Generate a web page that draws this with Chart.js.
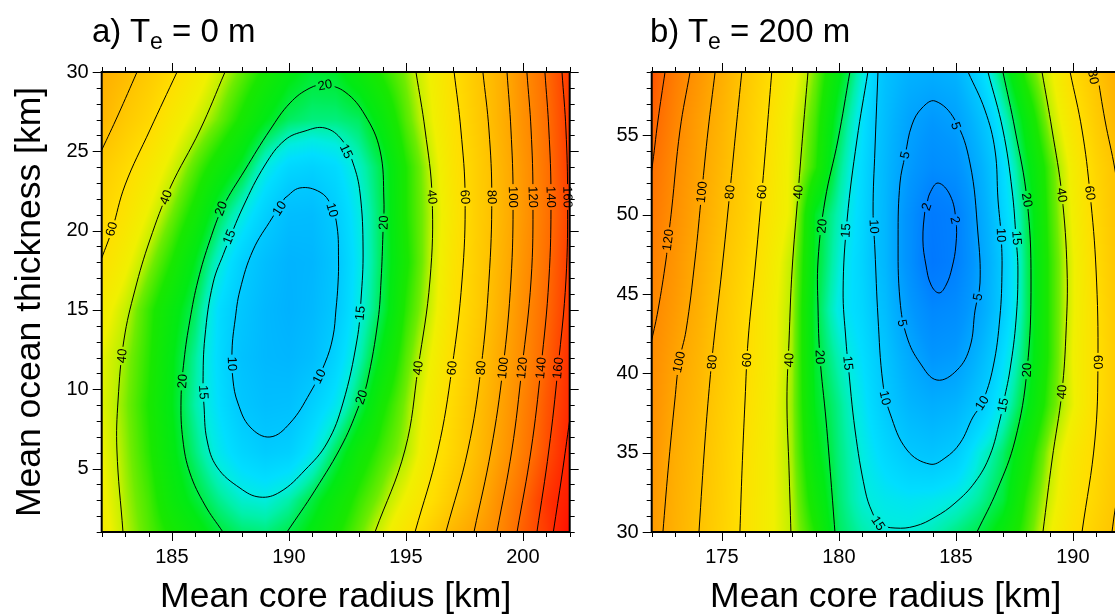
<!DOCTYPE html>
<html>
<head>
<meta charset="utf-8">
<script src="https://cdn.jsdelivr.net/npm/chart.js@4.4.1/dist/chart.umd.min.js"></script>
<style>
  html, body { margin: 0; padding: 0; overflow: hidden; background: #fff; width: 1115px; height: 615px; }
  canvas { position: absolute; top: 0; }
  #ca { left: 0; }
  #cb { left: 600px; }
  .ttl { position: absolute; top: 14px; font-family: "Liberation Sans", Arial, sans-serif; font-size: 33px; line-height: 1; color: #000; white-space: nowrap; z-index: 2; }
  .ttl sub { font-size: 23px; vertical-align: -7px; line-height: 0; }
</style>
</head>
<body>
<div class="ttl" style="left:92px">a) T<sub>e</sub> = 0 m</div>
<div class="ttl" style="left:650px">b) T<sub>e</sub> = 200 m</div>
<canvas id="ca" width="600" height="615"></canvas>
<canvas id="cb" width="530" height="615"></canvas>
<script>
// ---- panel a: T_e = 0 m ----
const xTicksA = [185, 190, 195, 200];
const yTicksA = [5, 10, 15, 20, 25, 30];
const gridXA = [182, 183, 184, 185, 186, 187, 188, 189, 190, 191, 192, 193, 194, 195, 196, 197, 198, 199, 200, 201, 202];
const gridYA = [30, 27, 24, 21, 18, 15, 12, 9, 6, 3, 1];
const misfitA = [
  [95, 86, 74, 63, 52, 42, 35, 29, 24, 21.5, 22, 26, 31, 37, 46, 59, 75, 92, 118, 141, 170],
  [90, 75, 65, 52, 43, 36, 29, 23, 19.5, 18.5, 18.5, 19.5, 25, 34, 44, 57, 73, 92, 116, 139, 168],
  [73, 63, 53, 43, 34, 27, 21.5, 15, 12, 11.3, 12.5, 16, 20.5, 30, 40, 55, 70, 89, 112, 137, 168],
  [66, 56, 45, 36, 28, 20, 15, 11, 8.5, 8.3, 10.5, 14.7, 20, 30, 39, 53, 70, 88, 111, 136, 163],
  [59, 48, 38, 30, 22.5, 15.5, 11, 8.5, 7.2, 7.5, 9.6, 14.2, 20, 29, 39.5, 55, 71, 90, 114, 139, 168],
  [50, 41, 32, 25, 19.5, 12.8, 9.7, 7.8, 7, 7.8, 10, 14.8, 20.5, 31, 41, 57, 72, 93, 118, 142, 170],
  [45, 38, 31, 23.5, 17.5, 12.5, 9, 7.8, 7.5, 8.5, 11.5, 16.5, 24, 34, 45, 60, 76, 98, 120, 146, 176],
  [44, 37, 30, 23, 17, 13, 9.8, 8.6, 8.8, 11, 14, 20, 29, 37, 49, 63, 81, 102, 126, 152, 178],
  [46, 38, 31, 24, 18.5, 14.3, 11.8, 10.5, 11, 14, 19.8, 27, 33, 39, 52, 66, 84, 106, 130, 156, 186],
  [48, 39, 33, 26, 21.5, 18, 15.7, 15.2, 17, 20.8, 26, 32, 38, 47, 58, 75, 93, 118, 142, 172, 192],
  [50, 40, 34, 29, 25, 21, 19, 18.5, 20.2, 24, 29, 35, 43, 55, 70, 89, 105, 122, 148, 168, 205]
];
const contoursA = [
  [10, [[189.83,22.06],[190.47,22.69],[191.33,22.43],[191.80,21.61],[192.06,20.23],[192.12,18.15],[192.10,16.70],[192.01,15.00],[191.88,13.29],[191.54,11.65],[190.90,9.76],[190.05,7.87],[189.19,6.99],[188.34,7.62],[187.82,9.13],[187.61,10.58],[187.57,12.47],[187.70,14.36],[187.91,16.25],[188.47,18.78],[189.28,20.79],[189.83,22.06]]],
  [15, [[187.27,18.78],[188.04,21.49],[188.98,24.14],[189.83,25.71],[190.69,26.28],[191.54,26.47],[192.27,25.71],[192.74,24.26],[193.04,22.37],[193.17,18.78],[193.08,15.62],[192.91,13.10],[192.31,9.13],[191.63,6.61],[190.69,4.91],[189.62,3.52],[188.76,3.20],[187.91,3.77],[186.93,5.09],[186.50,6.80],[186.37,9.00],[186.33,10.39],[186.41,13.29],[186.76,16.70],[187.27,18.78]]],
  [20, [[187.18,1],[186.41,2.70],[185.77,4.72],[185.47,6.80],[185.39,9.32],[185.52,11.84],[185.77,14.36],[186.12,16.89],[186.63,19.41],[187.18,21.49],[188.12,23.82],[189.19,26.34],[190.05,28.05],[190.90,28.99],[191.54,29.18],[192.40,28.74],[193.25,27.29],[193.89,25.08],[194.06,21.93],[194.02,19.85],[193.94,16.89],[193.81,14.36],[193.34,10.39],[193.04,9.13],[192.31,6.61],[191.12,3.64],[189.92,1]]],
  [40, [[187.27,30],[186.20,26.34],[184.92,22.69],[184.06,19.41],[183.42,16.25],[182.95,13.10],[182.70,9.32],[182.65,6.17],[182.91,1]]],
  [60, [[185.22,30],[184.06,26.34],[183.00,22.88],[182.44,20.04],[182.0,18.27],[181.9,17.9]]],
  [80, [[183.51,30],[182.70,27.29],[182.0,25.08],[181.9,24.8]]],
  [40, [[195.43,30],[195.82,26.34],[196.12,22.12],[196.03,16.89],[195.52,11.34],[194.96,6.17],[193.68,1]]],
  [60, [[197.06,30],[197.35,26.34],[197.53,22.12],[197.40,16.89],[196.97,11.34],[196.37,6.17],[195.39,1]]],
  [80, [[198.29,30],[198.55,26.34],[198.67,22.12],[198.55,16.89],[198.21,11.34],[197.65,6.17],[196.71,1]]],
  [100, [[199.32,30],[199.49,26.34],[199.58,22.12],[199.49,16.89],[199.15,11.34],[198.64,6.17],[197.91,1]]],
  [120, [[200.17,30],[200.35,26.34],[200.43,22.12],[200.35,16.89],[199.96,11.34],[199.53,6.17],[198.89,1]]],
  [140, [[200.94,30],[201.11,26.34],[201.20,22.12],[201.11,16.89],[200.77,11.34],[200.35,6.17],[199.75,1]]],
  [160, [[201.67,30],[201.84,26.34],[201.91,22.12],[201.84,16.89],[201.50,11.34],[201.11,6.17],[200.60,1]]],
  [180, [[202.05,8.5],[202.0,8.06],[201.67,4.6],[201.30,1]]]
];
const labelsA = [
  [60,182.42,20.1],[40,184.75,22.1],[40,182.87,12.1],[20,187.1,21.4],[20,191.54,29.18],[20,194.05,20.5],
  [20,193.1,9.5],[20,185.45,10.5],[15,187.45,19.6],[15,192.45,25.0],[15,193.05,14.8],[15,186.35,9.8],
  [10,189.6,21.4],[10,191.85,21.3],[10,187.57,11.6],[10,191.3,10.8],
  [40,196.12,22.12],[60,197.53,22.12],[80,198.67,22.12],[100,199.58,22.12],[120,200.43,22.12],[140,201.2,22.12],[160,201.91,22.12],
  [40,195.52,11.34],[60,196.97,11.34],[80,198.21,11.34],[100,199.15,11.34],[120,199.96,11.34],[140,200.77,11.34],[160,201.5,11.34]
];

// ---- panel b: T_e = 200 m ----
const xTicksB = [175, 180, 185, 190];
const yTicksB = [30, 35, 40, 45, 50, 55];
const gridXB = [172, 173, 174, 175, 176, 177, 178, 179, 180, 181, 182, 183, 184, 185, 186, 187, 188, 189, 190, 191, 192];
const gridYB = [59, 56, 53, 50, 47, 44, 41, 38, 35, 32, 30];
const misfitB = [
  [155, 130, 113, 95, 77, 62, 49, 36, 24, 15.5, 9, 7, 6.5, 7.2, 12, 20, 32, 44, 62, 79, 98],
  [147, 125, 107, 91, 74, 59, 45, 33, 20.5, 13.5, 8.3, 5.3, 4.2, 5, 8.5, 15.3, 25, 39, 55, 73, 92],
  [139, 120, 104, 87, 72, 57, 44, 31, 18.3, 12.5, 7.7, 4.5, 3, 3.5, 6.5, 12.5, 21.5, 33, 49, 66, 83],
  [133, 117, 101, 84, 70, 55, 44, 22, 16.5, 12, 7.5, 3.5, 1.5, 2, 5.5, 11.5, 19.5, 32, 47, 64, 82],
  [128, 113, 97, 80, 66, 52, 40, 22, 15.5, 11.5, 7.5, 3.5, 1.3, 2, 5, 10.3, 19, 31, 45, 62, 80],
  [124, 109, 94, 77, 63, 50, 39, 21, 14.5, 12, 8.3, 4.5, 2.6, 3, 5.5, 10.5, 19, 31, 45, 60, 78],
  [120, 104, 90, 75, 62, 50, 38.5, 21.5, 16.5, 13, 9.5, 6, 4, 4.5, 7.5, 12.7, 19.8, 31, 46, 59, 76],
  [118, 100, 87, 72, 60, 49, 38, 22.5, 18, 14, 10.2, 7.5, 6.5, 7.2, 10, 15, 22, 33, 45, 60, 75],
  [115, 96, 84, 70, 58, 48, 38.5, 24, 18.5, 15, 12, 10, 9.3, 10.5, 15, 19, 27, 39, 52, 63, 78],
  [112, 94, 82, 69, 57, 48, 39.5, 27, 19, 15.5, 14.3, 13.8, 14.2, 15.2, 17.5, 21, 31, 42, 55, 66, 80],
  [110, 93, 81, 68, 57, 48, 40, 30, 19.5, 17, 15.4, 15.4, 16.5, 18.3, 20.3, 25, 33, 45, 58, 70, 82]
];
const contoursB = [
  [140, [[172.57,59],[172.27,55.97],[172.0,52.82],[171.9,52.2]]],
  [120, [[173.64,59],[173.21,55.34],[172.85,50.30],[172.70,48.41],[172.61,47.15],[172.27,43.99],[172.0,42.10],[171.9,41.5]]],
  [100, [[174.71,59],[174.41,55.34],[174.14,51.43],[173.85,47.15],[173.47,42.73],[173.17,40.71],[172.99,38.32],[172.70,33.90],[172.48,30]]],
  [80, [[175.85,59],[175.60,55.34],[175.34,51.43],[175.0,46.52],[174.66,42.10],[174.49,39.58],[174.28,35.80],[174.02,30]]],
  [60, [[177.13,59],[176.93,55.34],[176.71,51.43],[176.41,46.52],[176.12,42.10],[175.99,38.32],[175.86,33.90],[175.77,30]]],
  [40, [[178.68,59],[178.47,55.34],[178.26,51.43],[178.0,46.52],[177.87,42.10],[177.78,38.32],[177.87,33.90],[177.95,30]]],
  [20, [[180.47,59],[179.96,54.71],[179.41,50.93],[179.11,47.15],[179.11,43.99],[179.19,41.03],[179.45,37.06],[179.66,33.27],[179.83,30]]],
  [15, [[181.24,59],[180.77,54.71],[180.35,49.67],[180.18,45.25],[180.30,42.10],[180.39,40.65],[180.69,36.43],[181.12,32.64],[181.42,31.26],[181.76,30.50],[182.40,30.25],[183.25,30.37],[184.11,30.94],[184.96,31.82],[185.82,33.15],[186.46,34.85],[186.88,37.06],[187.01,38.0],[187.31,40.21],[187.57,43.36],[187.65,46.52],[187.57,48.53],[187.40,51.56],[187.01,55.34],[186.37,59]]],
  [10, [[181.67,59],[181.54,54.08],[181.46,50.30],[181.54,47.78],[181.67,43.55],[181.88,39.39],[182.18,37.50],[182.91,35.17],[183.89,34.28],[184.53,34.66],[185.18,35.61],[185.73,37.25],[186.12,38.13],[186.59,40.40],[186.88,43.55],[186.97,46.52],[186.93,48.72],[186.80,50.93],[186.67,54.08],[186.24,56.60],[185.52,59]]],
  [5, [[182.83,53.77],[183.12,55.66],[183.55,56.73],[184.11,57.17],[184.96,55.97],[185.60,53.26],[185.94,48.85],[186.03,45.70],[185.82,43.99],[185.60,41.66],[185.05,40.21],[184.19,39.58],[183.47,40.65],[182.91,42.29],[182.61,44.62],[182.53,48.60],[182.61,52.0],[182.83,53.77]]],
  [2, [[183.75,50.6],[183.89,51.37],[184.24,52.0],[184.75,51.24],[185.0,49.67],[185.0,48.09],[184.83,46.64],[184.58,45.57],[184.28,45.07],[183.94,45.57],[183.72,46.83],[183.59,48.41],[183.68,50.30],[183.75,50.6]]],
  [20, [[187.01,59],[187.53,55.34],[188.04,50.93],[188.21,45.89],[188.04,40.21],[187.53,35.80],[186.76,32.64],[185.90,30]]],
  [40, [[188.68,59],[189.11,55.34],[189.53,51.24],[189.75,46.52],[189.71,42.73],[189.53,38.82],[189.11,34.54],[188.72,30]]],
  [60, [[189.88,59],[190.39,55.34],[190.73,51.37],[190.99,46.52],[191.07,40.71],[190.94,35.80],[190.39,30]]],
  [80, [[191.03,59],[191.37,55.97],[191.80,52.82],[192.1,49.67]]],
  [80, [[192.1,33.9],[191.80,31.38],[191.67,30]]]
];
const labelsB = [
  [120,172.70,48.41],[100,174.14,51.43],[100,173.17,40.71],[80,175.34,51.43],[80,174.58,40.71],
  [60,176.71,51.43],[60,176.07,40.84],[40,178.26,51.43],[40,177.87,40.84],[20,179.28,49.29],[20,179.19,41.03],
  [15,180.3,49.0],[15,180.39,40.65],[15,181.68,30.55],[10,181.5,49.25],[10,181.97,38.45],[10,186.93,48.72],[10,186.12,38.13],
  [5,182.83,53.77],[5,184.99,55.6],[5,185.94,44.81],[5,182.70,43.17],[2,183.75,50.51],[2,184.96,49.67],
  [15,187.6,48.53],[15,187.01,38.0],[20,188.04,50.93],[20,188.04,40.21],[40,189.53,51.24],[40,189.53,38.82],
  [60,190.73,51.37],[60,191.07,40.71],[80,190.87,58.68]
];

// colour table (misfit value -> rgb), shared by both panels
const colourStops = [1, 2, 4, 7, 10, 13, 15, 17, 20, 23, 30, 36, 40, 46, 60, 80, 100, 120, 140, 160, 180, 210];
const colourRGB = [[0,115,255],[0,128,255],[0,150,255],[0,178,255],[0,200,255],[0,222,255],[0,236,225],[0,240,170],[0,237,80],[0,234,20],[25,232,0],[110,236,0],[190,240,0],[240,240,0],[255,222,0],[255,195,0],[255,168,0],[255,140,0],[255,110,0],[255,72,0],[255,40,0],[255,10,0]];

const FONT = '"Liberation Sans", Arial, sans-serif';

function sampleGrid(gx, gy, grid, x, y) {
  let i = 0;
  while (i < gx.length - 2 && x > gx[i + 1]) i++;
  let j = 0;
  while (j < gy.length - 2 && y < gy[j + 1]) j++;
  const tx = Math.min(1, Math.max(0, (x - gx[i]) / (gx[i + 1] - gx[i])));
  const ty = Math.min(1, Math.max(0, (y - gy[j]) / (gy[j + 1] - gy[j])));
  const a = Math.log(grid[j][i]), b = Math.log(grid[j][i + 1]);
  const c = Math.log(grid[j + 1][i]), d = Math.log(grid[j + 1][i + 1]);
  return Math.exp((a * (1 - tx) + b * tx) * (1 - ty) + (c * (1 - tx) + d * tx) * ty);
}

function colourFor(v) {
  if (v <= colourStops[0]) return colourRGB[0];
  for (let k = 0; k < colourStops.length - 1; k++) {
    if (v <= colourStops[k + 1]) {
      const t = (Math.log(v) - Math.log(colourStops[k])) / (Math.log(colourStops[k + 1]) - Math.log(colourStops[k]));
      return colourRGB[k].map((c, n) => c + (colourRGB[k + 1][n] - c) * t);
    }
  }
  return colourRGB[colourRGB.length - 1];
}

function segDist(px, py, ax, ay, bx, by) {
  const dx = bx - ax, dy = by - ay;
  const l2 = dx * dx + dy * dy || 1;
  const t = Math.max(0, Math.min(1, ((px - ax) * dx + (py - ay) * dy) / l2));
  return Math.hypot(px - ax - t * dx, py - ay - t * dy);
}

function panelPlugin(gx, gy, grid, contours, labels) {
  let boxes = [];
  return {
    id: 'panel',
    beforeDatasetsDraw(chart) {
      const { ctx, chartArea: a, scales: { x: sx, y: sy } } = chart;
      // misfit image
      const x0 = Math.floor(a.left), y0 = Math.floor(a.top);
      const w = Math.ceil(a.right) - x0, h = Math.ceil(a.bottom) - y0;
      const img = ctx.createImageData(w, h);
      const xs = [], ys = [];
      for (let i = 0; i < w; i++) xs.push(sx.getValueForPixel(x0 + i + 0.5));
      for (let j = 0; j < h; j++) ys.push(sy.getValueForPixel(y0 + j + 0.5));
      for (let j = 0; j < h; j++) {
        for (let i = 0; i < w; i++) {
          const c = colourFor(sampleGrid(gx, gy, grid, xs[i], ys[j]));
          const k = (j * w + i) * 4;
          img.data[k] = c[0]; img.data[k + 1] = c[1]; img.data[k + 2] = c[2]; img.data[k + 3] = 255;
        }
      }
      ctx.putImageData(img, x0, y0);

      // contour labels: angle taken from the nearest piece of the same contour
      ctx.font = '13px ' + FONT;
      boxes = labels.map(([lev, lx, ly]) => {
        const px = sx.getPixelForValue(lx), py = sy.getPixelForValue(ly);
        let best = Infinity, ang = 0;
        contours.forEach(([l, pts]) => {
          if (l !== lev) return;
          for (let i = 0; i < pts.length - 1; i++) {
            const ax = sx.getPixelForValue(pts[i][0]), ay = sy.getPixelForValue(pts[i][1]);
            const bx = sx.getPixelForValue(pts[i + 1][0]), by = sy.getPixelForValue(pts[i + 1][1]);
            const d = segDist(px, py, ax, ay, bx, by);
            if (d < best) { best = d; ang = Math.atan2(by - ay, bx - ax); }
          }
        });
        if (ang > Math.PI / 2) ang -= Math.PI;
        if (ang <= -Math.PI / 2) ang += Math.PI;
        return { text: String(lev), px, py, ang, w: ctx.measureText(String(lev)).width };
      });

      // cut gaps in the lines where labels sit
      ctx.save();
      ctx.beginPath();
      ctx.rect(a.left - 5, a.top - 5, a.right - a.left + 10, a.bottom - a.top + 10);
      boxes.forEach(b => {
        const hw = b.w / 2 + 2, hh = 6;
        const c = Math.cos(b.ang), s = Math.sin(b.ang);
        const pts = [[-hw, -hh], [hw, -hh], [hw, hh], [-hw, hh]].map(([u, v]) => [b.px + u * c - v * s, b.py + u * s + v * c]);
        ctx.moveTo(pts[0][0], pts[0][1]);
        for (let k = 1; k < 4; k++) ctx.lineTo(pts[k][0], pts[k][1]);
        ctx.closePath();
      });
      ctx.clip('evenodd');
    },
    afterDatasetsDraw(chart) {
      const ctx = chart.ctx;
      ctx.restore();
      ctx.save();
      ctx.fillStyle = '#000';
      ctx.font = '13px ' + FONT;
      ctx.textAlign = 'center';
      ctx.textBaseline = 'middle';
      boxes.forEach(b => {
        ctx.save();
        ctx.translate(b.px, b.py);
        ctx.rotate(b.ang);
        ctx.fillText(b.text, 0, 0.5);
        ctx.restore();
      });
      ctx.restore();
    },
    afterDraw(chart) {
      const { ctx, chartArea: a, scales: { x: sx, y: sy } } = chart;
      ctx.save();
      ctx.strokeStyle = '#000';
      ctx.lineWidth = 1;
      ctx.beginPath();
      for (let v = Math.ceil(sx.min); v <= sx.max; v++) {
        const p = Math.round(sx.getPixelForValue(v)) + 0.5;
        const len = v % 5 === 0 ? 9 : 5;
        ctx.moveTo(p, a.bottom); ctx.lineTo(p, a.bottom + len);
        ctx.moveTo(p, a.top); ctx.lineTo(p, a.top - len);
      }
      for (let v = Math.ceil(sy.min); v <= sy.max; v++) {
        const p = Math.round(sy.getPixelForValue(v)) + 0.5;
        const len = v % 5 === 0 ? 9 : 5;
        ctx.moveTo(a.left, p); ctx.lineTo(a.left - len, p);
        ctx.moveTo(a.right, p); ctx.lineTo(a.right + len, p);
      }
      ctx.stroke();
      ctx.lineWidth = 2;
      ctx.strokeRect(a.left, a.top, a.right - a.left, a.bottom - a.top);
      ctx.restore();
    }
  };
}

function makePanel(id, p) {
  const datasets = p.contours.map(([level, pts]) => ({
    label: String(level),
    data: pts.map(q => ({ x: q[0], y: q[1] })),
    showLine: true,
    borderColor: '#000',
    borderWidth: 1,
    pointRadius: 0,
    tension: 0.4,
    fill: false
  }));
  return new Chart(document.getElementById(id), {
    type: 'scatter',
    data: { datasets },
    options: {
      responsive: false,
      animation: false,
      devicePixelRatio: 1,
      events: [],
      layout: { padding: { left: 0, top: 72, right: p.rightPad, bottom: 0 } },
      plugins: { legend: { display: false }, tooltip: { enabled: false } },
      scales: {
        x: {
          type: 'linear', min: p.xMin, max: p.xMax,
          grid: { display: false, drawTicks: false }, border: { display: false },
          afterBuildTicks: s => { s.ticks = p.xTicks.map(v => ({ value: v })); },
          ticks: { autoSkip: false, maxRotation: 0, padding: 13, color: '#000', font: { family: FONT, size: 20 } },
          title: { display: true, text: 'Mean core radius [km]', color: '#000', font: { family: FONT, size: 35.5, lineHeight: 1 }, padding: { top: 0, bottom: 0 } },
          afterFit: s => { s.height = 83; }
        },
        y: {
          type: 'linear', min: p.yMin, max: p.yMax,
          grid: { display: false, drawTicks: false }, border: { display: false },
          afterBuildTicks: s => { s.ticks = p.yTicks.map(v => ({ value: v })); },
          ticks: { autoSkip: false, padding: 13, color: '#000', font: { family: FONT, size: 20 } },
          title: { display: !!p.yTitle, text: p.yTitle || '', color: '#000', font: { family: FONT, size: 35.5, lineHeight: 1 }, padding: { top: 12, bottom: 0 } },
          afterFit: s => { s.width = p.yWidth; }
        }
      }
    },
    plugins: [panelPlugin(p.gx, p.gy, p.grid, p.contours, p.labels)]
  });
}

makePanel('ca', { gx: gridXA, gy: gridYA, grid: misfitA, contours: contoursA, labels: labelsA, xTicks: xTicksA, yTicks: yTicksA,
  xMin: 182, xMax: 202, yMin: 1, yMax: 30, yTitle: 'Mean ocean thickness [km]', yWidth: 101.7, rightPad: 30.3 });
makePanel('cb', { gx: gridXB, gy: gridYB, grid: misfitB, contours: contoursB, labels: labelsB, xTicks: xTicksB, yTicks: yTicksB,
  xMin: 172, xMax: 192, yMin: 30, yMax: 59, yTitle: '', yWidth: 51.7, rightPad: 10.3 });
</script>
</body>
</html>
